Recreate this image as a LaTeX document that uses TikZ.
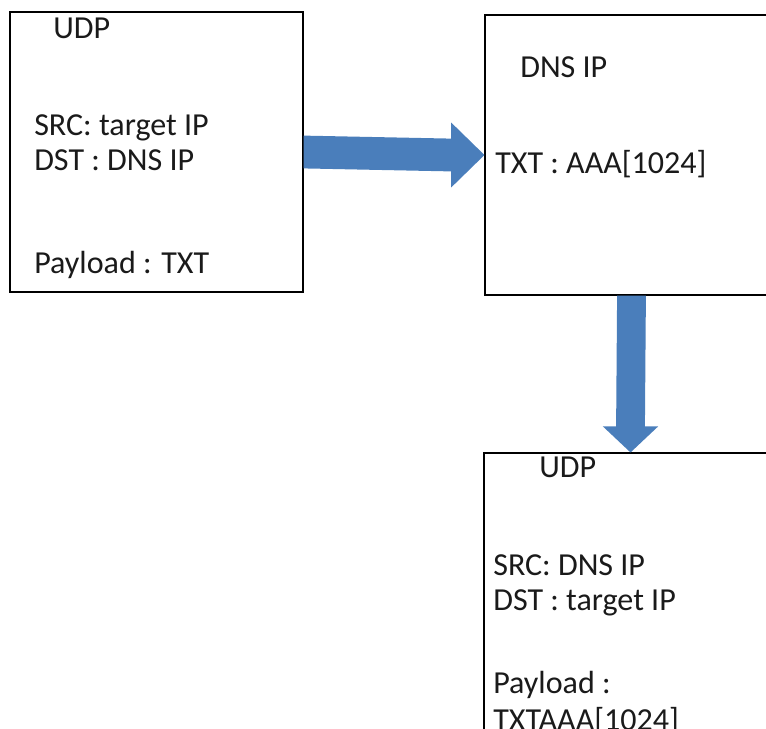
\documentclass[tikz,border=0pt]{standalone}
\usepackage{fontspec}
\setmainfont{Carlito}
\usetikzlibrary{calc, positioning}
\definecolor{pktBlue}{HTML}{4A7EBB}
\definecolor{pktInk}{HTML}{1A1A1A}
\tikzset{
  pktbox/.style   = {draw=black, line width=0.8pt, minimum width=7.325cm,
                     minimum height=7cm, inner sep=0pt},
  pkttxt/.style   = {anchor=base west, inner sep=0pt, pktInk,
                     font=\fontsize{22.8}{27}\selectfont},
  blockarrow/.style = {fill=pktBlue, draw=none},
}

\begin{document}
\begin{tikzpicture}

\useasboundingbox (0,0) rectangle (19.15,-18.2);
\clip (0,0) rectangle (19.15,-18.2);

% ---- boxes ---------------------------------------------------------------
\node[pktbox] (query) at (3.9125,-3.8)   {};
\node[pktbox] (dns)   at (15.7875,-3.875) {};
\node[pktbox] (reply) at (15.7625,-14.825) {};

% ---- query packet --------------------------------------------------------
\node[pkttxt] (qudp) at (1.325,-0.95)  {UDP};
\node[pkttxt] (qsrc) at (0.85,-3.375)  {SRC: target IP};
\node[pkttxt] (qdst) at (0.85,-4.25)   {DST : DNS IP};
\node[pkttxt] (qpay) at (0.85,-6.825)  {Payload : TXT};

% ---- dns server ----------------------------------------------------------
\node[pkttxt] (dip)  at (13.0,-1.925)   {DNS IP};
\node[pkttxt] (dtxt) at (12.375,-4.325) {TXT : AAA[1024]};

% ---- reply packet --------------------------------------------------------
\node[pkttxt] (rudp) at (13.475,-11.925) {UDP};
\node[pkttxt] (rsrc) at (12.325,-14.375) {SRC: DNS IP};
\node[pkttxt] (rdst) at (12.325,-15.25)  {DST : target IP};
\node[pkttxt] (rpay) at (12.325,-17.325) {Payload :};
\node[pkttxt] (rtxt) at (12.325,-18.25)  {TXTAAA[1024]};

% ---- block arrows --------------------------------------------------------
\fill[blockarrow] ($(query.east)+(0,0.41)$) -- ($(dns.west)+(-0.83,0.41)$)
  -- ($(dns.west)+(-0.83,0.81)$) -- (dns.west) -- ($(dns.west)+(-0.83,-0.81)$)
  -- ($(dns.west)+(-0.83,-0.41)$) -- ($(query.east)+(0,-0.41)$) -- cycle;
\fill[blockarrow] ($(dns.south)+(-0.36,0)$) -- ($(reply.north)+(-0.36,0.65)$)
  -- ($(reply.north)+(-0.69,0.65)$) -- (reply.north) -- ($(reply.north)+(0.69,0.65)$)
  -- ($(reply.north)+(0.36,0.65)$) -- ($(dns.south)+(0.36,0)$) -- cycle;

\end{tikzpicture}
\end{document}
